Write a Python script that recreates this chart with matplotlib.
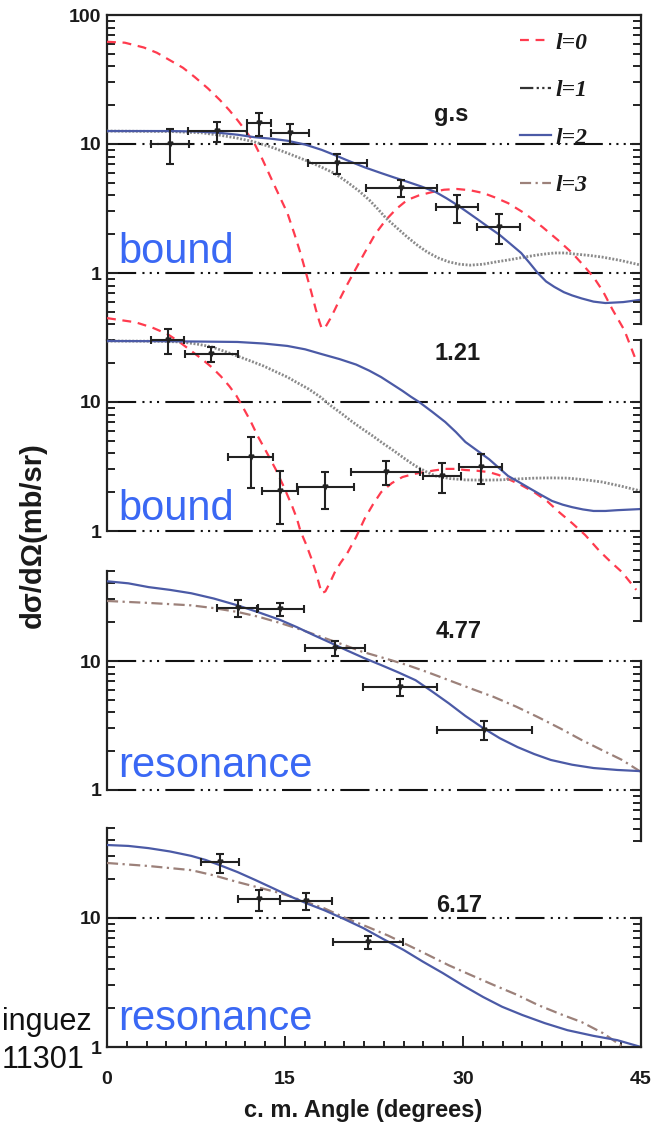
import numpy as np
import matplotlib
matplotlib.use("Agg")
import matplotlib.pyplot as plt
from matplotlib.ticker import FixedLocator, MultipleLocator, NullFormatter, FuncFormatter
from matplotlib.lines import Line2D

plt.rcParams['font.family'] = ['Liberation Sans', 'DejaVu Sans']

# ---- data ----
# g.s panel
gs_l0_x = [0, 1.5, 3.1, 4.2, 5.3, 6.4, 7.4, 8.5, 9.5, 10.3, 11.0, 11.7, 12.4, 13.1, 13.8, 14.5, 15.2, 15.8,
           16.3, 16.8, 17.2, 17.6, 17.9, 18.1, 18.4, 18.8, 19.2, 19.7, 20.2, 20.9, 21.7, 22.6, 23.5, 24.4,
           25.3, 26.3, 27.4, 28.4, 29.5, 30.6, 31.7, 32.7, 33.8, 35.2, 36.7, 38.0, 39.2, 40.1, 41.0, 41.8,
           42.6, 43.6, 44.5]
gs_l0_y = [62, 61, 56, 51, 44.6, 39, 33, 27, 22, 18.3, 15.3, 12.6, 10.2, 7.6, 5.5, 4.0, 2.92, 2.0,
           1.43, 0.98, 0.72, 0.52, 0.42, 0.37, 0.38, 0.44, 0.52, 0.65, 0.8, 1.05, 1.43, 2.0, 2.58, 3.15,
           3.68, 4.0, 4.24, 4.42, 4.48, 4.38, 4.17, 3.85, 3.48, 2.9, 2.27, 1.8, 1.43, 1.16, 0.93, 0.72,
           0.52, 0.36, 0.22]
gs_l1_x = [0, 5.3, 8.0, 9.5, 11.0, 12.4, 13.8, 15.2, 16.7, 18.1, 19.2, 20.2, 21.2, 22.1, 22.8, 23.5, 24.4,
           25.3, 26.2, 27.0, 27.9, 28.8, 29.7, 30.6, 31.7, 32.8, 34.0, 35.2, 36.5, 37.7, 38.6, 39.5, 40.6,
           41.7, 43.3, 45]
gs_l1_y = [12.6, 12.5, 12.2, 11.7, 11.1, 10.4, 9.5, 8.5, 7.5, 6.6, 5.9, 5.1, 4.35, 3.68, 3.15, 2.67, 2.25,
           1.9, 1.63, 1.45, 1.31, 1.22, 1.17, 1.15, 1.17, 1.22, 1.27, 1.33, 1.39, 1.43, 1.43, 1.40, 1.37,
           1.33, 1.25, 1.15]
gs_l2_x = [0, 5.3, 7.5, 9.5, 11.0, 12.4, 13.8, 15.2, 16.7, 18.1, 19.2, 20.2, 21.7, 23.1, 24.2, 25.3, 26.5,
           27.7, 28.6, 29.5, 30.4, 31.3, 32.2, 33.1, 34.0, 34.9, 35.6, 36.3, 37.0, 37.7, 38.5, 39.2, 40.0,
           41.0, 42.0, 43.5, 45]
gs_l2_y = [12.6, 12.6, 12.5, 12.2, 11.8, 11.3, 11.0, 10.6, 9.9, 9.0, 8.2, 7.5, 6.6, 5.95, 5.5, 5.1, 4.68,
           4.24, 3.8, 3.37, 2.95, 2.58, 2.25, 1.97, 1.68, 1.43, 1.2, 1.0, 0.86, 0.78, 0.71, 0.67, 0.635,
           0.6, 0.585, 0.595, 0.62]
gs_x = [5.3, 9.3, 12.8, 15.4, 19.4, 24.8, 29.5, 33.0]
gs_xerr = [1.6, 2.5, 1.0, 1.6, 2.5, 3.0, 1.75, 1.8]
gs_y = [10.0, 12.6, 14.5, 12.1, 7.1, 4.6, 3.25, 2.27]
gs_yerr = [3.0, 2.2, 3.0, 2.1, 1.2, 0.7, 0.8, 0.6]

# 1.21 panel
e121_l0_x = [0, 2.4, 3.8, 5.1, 6.1, 7.1, 8.0, 8.8, 9.6, 10.3, 10.9, 11.4, 12.1, 12.7, 13.5, 14.2, 14.9,
             15.6, 16.0, 16.3, 16.8, 17.2, 17.6, 17.9, 18.1, 18.4, 18.8, 19.2, 19.7, 20.2, 21.0, 21.7,
             22.4, 23.1, 24.0, 24.9, 25.8, 26.7, 27.6, 28.5, 29.4, 30.2, 31.2, 32.2, 33.0, 33.8, 34.9,
             36.0, 37.1, 38.1, 39.2, 40.3, 41.5, 42.5, 43.4, 44.6]
e121_l0_y = [44.7, 41.5, 37.8, 33.6, 29.2, 24.9, 21.5, 18.7, 15.8, 13.3, 11.2, 9.3, 7.1, 5.45, 4.0, 3.03, 2.2,
             1.56, 1.25, 1.0, 0.78, 0.62, 0.48, 0.38, 0.33, 0.34, 0.40, 0.48, 0.57, 0.66, 0.9, 1.24,
             1.6, 2.0, 2.35, 2.62, 2.76, 2.86, 2.95, 3.03, 3.03, 2.97, 2.93, 2.86, 2.72, 2.53, 2.27,
             2.0, 1.7, 1.40, 1.15, 0.93, 0.70, 0.57, 0.48, 0.35]
e121_l1_x = [0, 4, 6.3, 7.6, 8.8, 9.9, 11.0, 12.1, 13.2, 14.2, 15.2, 16.1, 17.0, 18.0, 18.9, 19.8, 20.6,
             21.5, 22.4, 23.3, 24.2, 25.1, 26.0, 26.9, 27.7, 28.9, 30.2, 31.6, 33.1, 34.5, 36.0, 37.4,
             38.8, 40.2, 41.7, 43.3, 45]
e121_l1_y = [29.7, 29.6, 29.2, 28.1, 26.8, 24.7, 22.7, 20.8, 19.0, 17.2, 15.6, 14.0, 12.6, 10.9, 9.3, 8.1, 7.1,
             6.2, 5.45, 4.75, 4.17, 3.63, 3.19, 2.88, 2.67, 2.55, 2.49, 2.48, 2.49, 2.53, 2.57, 2.58,
             2.57, 2.5, 2.4, 2.23, 2.04]
e121_l2_x = [0, 5, 11.0, 13.2, 15.2, 16.7, 18.1, 19.6, 21.0, 22.1, 23.1, 24.0, 24.9, 25.6, 26.3, 27.4, 28.5,
             29.4, 30.2, 31.2, 32.2, 33.0, 33.8, 34.8, 35.7, 36.6, 37.5, 38.4, 39.2, 40.1, 41.0, 42.0,
             43.0, 45]
e121_l2_y = [29.7, 29.6, 29.2, 28.4, 27.2, 25.6, 23.5, 21.5, 19.5, 17.5, 15.6, 13.8, 12.2, 11.0, 10.0, 8.4,
             7.0, 5.85, 4.9, 4.2, 3.6, 3.1, 2.67, 2.37, 2.12, 1.9, 1.71, 1.6, 1.53, 1.47, 1.43, 1.43,
             1.45, 1.48]
e121_x = [5.1, 8.8, 12.1, 14.6, 18.4, 23.5, 28.2, 31.5]
e121_xerr = [1.4, 2.2, 1.9, 1.5, 2.4, 2.9, 1.6, 1.8]
e121_y = [30.2, 23.5, 3.74, 2.04, 2.19, 2.86, 2.67, 3.13]
e121_yerr = [6.5, 3.0, 1.6, 0.9, 0.7, 0.6, 0.7, 0.8]

# 4.77 panel
e477_l2_x = [0, 1.8, 3.5, 5.3, 7.1, 9.0, 11.0, 12.8, 14.6, 16.0, 17.4, 18.8, 20.2, 21.6, 23.1, 24.5, 26.0,
             27.4, 28.8, 30.2, 31.7, 33.1, 34.6, 36.0, 37.4, 39.2, 41.0, 43.0, 45]
e477_l2_y = [41.5, 40.0, 37.4, 35.6, 33.5, 30.5, 27.0, 23.8, 20.8, 18.3, 15.9, 13.9, 12.1, 10.6, 9.3, 8.2, 7.1,
             5.8, 4.7, 3.75, 3.02, 2.52, 2.15, 1.9, 1.71, 1.57, 1.48, 1.43, 1.40]
e477_l3_x = [0, 3.5, 7.1, 9.0, 11.0, 12.8, 14.6, 16.5, 18.3, 19.9, 21.5, 23.4, 25.3, 27.0, 28.8, 30.7, 32.6,
             34.5, 36.3, 38.2, 40.0, 41.7, 43.4, 45]
e477_l3_y = [29.2, 28.2, 27.0, 25.7, 24.0, 22.0, 19.7, 17.3, 15.1, 13.4, 11.8, 10.5, 9.3, 8.2, 7.1, 6.1, 5.26,
             4.42, 3.68, 3.0, 2.44, 2.04, 1.71, 1.38]
e477_x = [11.0, 14.6, 19.2, 24.7, 31.8]
e477_xerr = [1.7, 2.0, 2.5, 3.1, 4.0]
e477_y = [25.8, 25.3, 12.6, 6.3, 2.92]
e477_yerr = [3.7, 3.0, 1.7, 0.9, 0.5]

# 6.17 panel
e617_l2_x = [0, 1.8, 3.5, 5.3, 7.1, 8.3, 9.5, 11.0, 12.5, 14.0, 15.6, 16.9, 18.3, 20.0, 21.6, 23.3, 25.0,
             26.6, 28.3, 30.0, 31.7, 33.3, 35.0, 36.9, 38.8, 41.0, 43.0, 45]
e617_l2_y = [36.8, 36.2, 34.8, 32.8, 30.3, 28.2, 25.7, 22.7, 19.7, 17.0, 14.5, 12.9, 11.5, 9.8, 8.35, 6.85,
             5.65, 4.6, 3.74, 3.0, 2.44, 2.05, 1.77, 1.53, 1.35, 1.22, 1.13, 1.0]
e617_l3_x = [0, 3.5, 7.1, 9.0, 11.0, 12.8, 14.6, 16.5, 18.3, 20.1, 22.0, 23.7, 25.3, 27.0, 28.8, 30.7, 32.6,
             34.5, 36.3, 38.2, 40.0, 41.8, 43.5, 44.4]
e617_l3_y = [26.7, 25.3, 23.5, 21.4, 19.0, 17.2, 15.6, 13.6, 11.9, 10.0, 8.5, 7.3, 6.2, 5.2, 4.3, 3.6, 3.02,
             2.55, 2.12, 1.8, 1.56, 1.28, 1.0, 0.91]
e617_x = [9.5, 12.8, 16.8, 22.0]
e617_xerr = [1.6, 1.8, 2.2, 2.95]
e617_y = [27, 14.0, 13.5, 6.5]
e617_yerr = [4.6, 2.6, 2.0, 0.8]

panel_names = ['g.s', '1.21', '4.77', '6.17']
state_words = ['bound', 'bound', 'resonance', 'resonance']
legend_labels = ['l=0', 'l=1', 'l=2', 'l=3']

# ---- styles ----
RED, GREY, BLUE, BROWN = '#ff3b4e', '#8a8a8a', '#4b5aa6', '#9c817a'
TXTBLUE = '#3a68f4'
sty = {
    'l0': dict(color=RED, lw=1.6, ls=(0, (4, 3))),
    'l1': dict(color=GREY, lw=2.0, ls=(0, (0.7, 0.6))),
    'l2': dict(color=BLUE, lw=1.6, ls='-'),
    'l3': dict(color=BROWN, lw=1.6, ls=(0, (5, 2, 1, 2))),
}
GRID = (0, (14, 3, 1, 2.5, 1, 2.5, 1, 3))

W, H = 661, 1134
fig = plt.figure(figsize=(W / 100, H / 100), dpi=100)
X0, X1 = 107, 641            # pixel columns of angle 0 and 45
ONE = [273, 531, 790, 1047]  # pixel row of value 1 in each panel
DEC = 129                    # pixels per decade


def fx(px):
    return px / W


def fy(py):
    return 1 - py / H


def log_ticks(lo, hi):
    major = [v for v in [0.1, 1, 10, 100] if lo * 0.999 <= v <= hi * 1.001]
    minor = [m * 10.0 ** k for k in (-1, 0, 1) for m in range(2, 10) if lo * 0.999 <= m * 10.0 ** k <= hi * 1.001]
    return major, minor


def set_side(a, where, lo, hi, labels):
    a.spines[where].set_visible(True)
    a.spines[where].set_bounds(lo, hi)
    a.spines[where].set_linewidth(1.6)
    a.spines[where].set_color('#222222')
    major, minor = log_ticks(lo, hi)
    a.yaxis.set_major_locator(FixedLocator(major))
    a.yaxis.set_minor_locator(FixedLocator(minor))
    a.yaxis.set_minor_formatter(NullFormatter())
    a.yaxis.set_major_formatter(FuncFormatter(lambda v, p: '%g' % v))
    a.tick_params(axis='y', which='major', direction='in', length=8, width=1.4, color='#222222',
                  left=(where == 'left'), right=(where == 'right'),
                  labelleft=(labels and where == 'left'), labelright=False,
                  labelsize=14, pad=4, labelcolor='#1a1a1a')
    a.tick_params(axis='y', which='minor', direction='in', length=5.5, width=1.4, color='#222222',
                  left=(where == 'left'), right=(where == 'right'))
    for lab in a.get_yticklabels():
        lab.set_fontweight('bold')


panels = [
    dict(lo=0.2, hi=100, left=(0.3, 100), right=(0.4, 100)),
    dict(lo=0.2, hi=100, left=(1, 30), right=(0.2, 30)),
    dict(lo=0.2, hi=100, left=(1, 50), right=(0.4, 10)),
    dict(lo=1, hi=100, left=(1, 50), right=(1, 10)),
]
curves = [
    [('l0', gs_l0_x, gs_l0_y), ('l1', gs_l1_x, gs_l1_y), ('l2', gs_l2_x, gs_l2_y)],
    [('l0', e121_l0_x, e121_l0_y), ('l1', e121_l1_x, e121_l1_y), ('l2', e121_l2_x, e121_l2_y)],
    [('l3', e477_l3_x, e477_l3_y), ('l2', e477_l2_x, e477_l2_y)],
    [('l3', e617_l3_x, e617_l3_y), ('l2', e617_l2_x, e617_l2_y)],
]
points = [
    (gs_x, gs_xerr, gs_y, gs_yerr),
    (e121_x, e121_xerr, e121_y, e121_yerr),
    (e477_x, e477_xerr, e477_y, e477_yerr),
    (e617_x, e617_xerr, e617_y, e617_yerr),
]
word_base = [263, 520, 777, 1030]
name_pos = [(451, 115), (458, 354), (459, 632), (459, 906)]

axes = []
for i, p in enumerate(panels):
    top = ONE[i] - DEC * np.log10(p['hi'])
    bot = ONE[i] - DEC * np.log10(p['lo'])
    ax = fig.add_axes([fx(X0), fy(bot), (X1 - X0) / W, (bot - top) / H])
    ax.set_yscale('log')
    ax.set_xlim(0, 45)
    ax.set_ylim(p['lo'], p['hi'])
    ax.patch.set_alpha(0)
    for s in ax.spines.values():
        s.set_visible(False)
    tw = ax.twinx()
    tw.set_yscale('log')
    tw.set_ylim(p['lo'], p['hi'])
    for s in tw.spines.values():
        s.set_visible(False)
    set_side(ax, 'left', *p['left'], True)
    set_side(tw, 'right', *p['right'], False)
    ax.set_ylim(p['lo'], p['hi'])
    tw.set_ylim(p['lo'], p['hi'])

    # dash-dot-dot lines at the decades
    for v in ([10, 1] if i < 3 else [10]):
        ax.axhline(v, color='#111111', lw=1.5, ls=GRID, zorder=1)

    for key, cx, cy in curves[i]:
        ax.plot(cx, cy, zorder=3, **sty[key])

    px, pxe, py, pye = points[i]
    ax.errorbar(px, py, xerr=pxe, yerr=pye, fmt='v', ms=3.5, color='#222222', ecolor='#222222',
                elinewidth=1.5, capsize=3, capthick=1.5, zorder=5)

    if i == 0:
        ax.spines['top'].set_visible(True)
        ax.spines['top'].set_linewidth(1.6)
        ax.spines['top'].set_color('#222222')
    if i == 3:
        ax.spines['bottom'].set_visible(True)
        ax.spines['bottom'].set_linewidth(1.6)
        ax.spines['bottom'].set_color('#222222')
        ax.xaxis.set_major_locator(MultipleLocator(15))
        ax.xaxis.set_minor_locator(MultipleLocator(15 / 9))
        ax.tick_params(axis='x', which='major', direction='in', length=8, width=1.4, labelsize=14,
                       pad=17, color='#222222', labelcolor='#1a1a1a', top=False)
        ax.tick_params(axis='x', which='minor', direction='in', length=4, width=1.4, color='#222222', top=False)
        for lab in ax.get_xticklabels():
            lab.set_fontweight('bold')
    else:
        ax.tick_params(axis='x', which='both', bottom=False, labelbottom=False)
    axes.append(ax)

    fig.text(fx(name_pos[i][0]), fy(name_pos[i][1]), panel_names[i], ha='center', va='center',
             fontsize=17, fontweight='bold', color='#1a1a1a')
    fig.text(fx(118), fy(word_base[i]), state_words[i], ha='left', va='baseline',
             fontsize=30, color=TXTBLUE)

# legend in the top panel
handles = [
    Line2D([], [], color=RED, lw=1.6, ls=(0, (4, 3))),
    Line2D([], [], color='#333333', lw=1.6, ls=(0, (6, 1.5, 1, 1.5, 1, 1.5))),
    Line2D([], [], color=BLUE, lw=1.6, ls='-'),
    Line2D([], [], color=BROWN, lw=1.6, ls=(0, (5, 2, 1, 2))),
]
leg = axes[0].legend(handles, legend_labels, loc='upper left', bbox_to_anchor=(fx(520), fy(32)),
                     bbox_transform=fig.transFigure, frameon=False, borderpad=0, borderaxespad=0,
                     handlelength=1.3, handletextpad=0.2, labelspacing=1.1,
                     prop=dict(family='Liberation Serif', style='italic', weight='bold', size=17))
for t in leg.get_texts():
    t.set_color('#1a1a1a')
leg.set_zorder(10)

fig.text(fx(33), fy(535), 'dσ/dΩ(mb/sr)', rotation=90, ha='center', va='center',
         fontsize=21, fontweight='bold', color='#1a1a1a')
fig.text(fx(363), fy(1111), 'c. m. Angle (degrees)', ha='center', va='center',
         fontsize=17, fontweight='bold', color='#1a1a1a')

# cut-off citation at the lower left
fig.text(fx(92), fy(1030), 'inguez', ha='right', va='baseline', fontsize=22, color='#111111')
fig.text(fx(84), fy(1068), '11301', ha='right', va='baseline', fontsize=22, color='#111111')

fig.savefig('out.png', dpi=100)
